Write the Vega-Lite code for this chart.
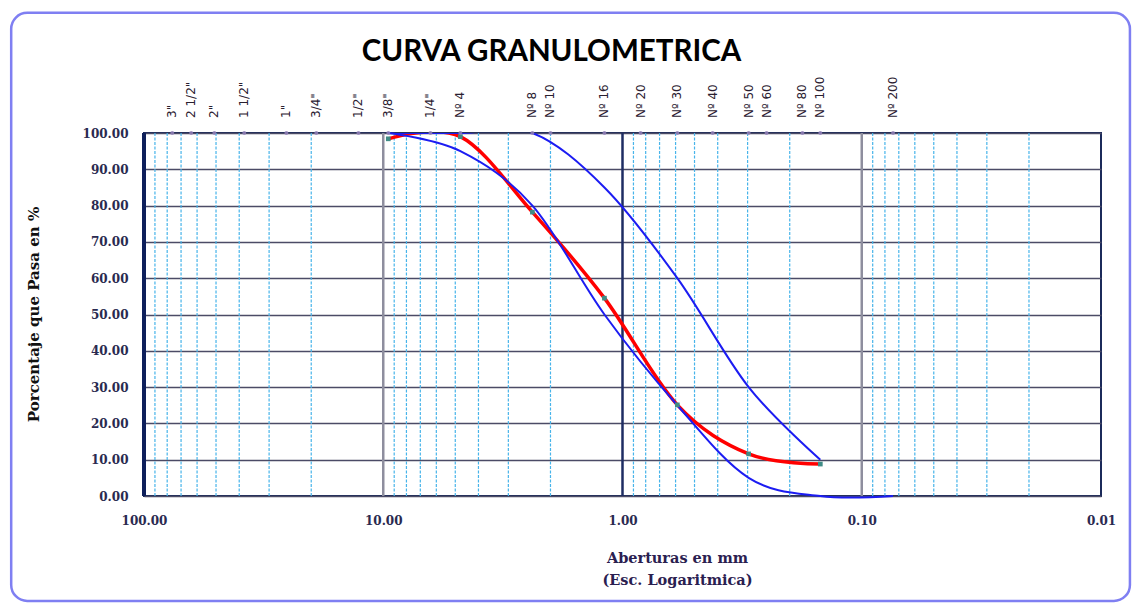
{
  "$schema": "https://vega.github.io/schema/vega-lite/v6.json",
  "autosize": {"type": "none"},
  "padding": {"left": 144, "top": 133, "right": 39, "bottom": 108},
  "width": 957,
  "height": 363,
  "background": "white",
  "title": {
    "text": "CURVA GRANULOMETRICA",
    "font": "Lato",
    "fontSize": 29.5,
    "fontWeight": "bold",
    "color": "#000000",
    "anchor": "middle",
    "dx": -71,
    "offset": -56
  },
  "datasets": {
    "minor": [
      {"size": 90}, {"size": 80}, {"size": 70}, {"size": 60}, {"size": 50}, {"size": 40}, {"size": 30}, {"size": 20},
      {"size": 9}, {"size": 8}, {"size": 7}, {"size": 6}, {"size": 5}, {"size": 4}, {"size": 3}, {"size": 2},
      {"size": 0.9}, {"size": 0.8}, {"size": 0.7}, {"size": 0.6}, {"size": 0.5}, {"size": 0.4}, {"size": 0.3}, {"size": 0.2},
      {"size": 0.09}, {"size": 0.08}, {"size": 0.07}, {"size": 0.06}, {"size": 0.05}, {"size": 0.04}, {"size": 0.03}, {"size": 0.02}
    ],
    "decades": [{"size": 10}, {"size": 1}, {"size": 0.1}],
    "sieves": [
      {"name": "3\"", "size": 76.2},
      {"name": "2 1/2\"", "size": 63.5},
      {"name": "2\"", "size": 50.8},
      {"name": "1 1/2\"", "size": 38.1},
      {"name": "1\"", "size": 25.4},
      {"name": "3/4\"", "size": 19.05},
      {"name": "1/2\"", "size": 12.7},
      {"name": "3/8\"", "size": 9.525},
      {"name": "1/4\"", "size": 6.35},
      {"name": "Nº 4", "size": 4.76},
      {"name": "Nº 8", "size": 2.38},
      {"name": "Nº 10", "size": 2.0},
      {"name": "Nº 16", "size": 1.19},
      {"name": "Nº 20", "size": 0.84},
      {"name": "Nº 30", "size": 0.59},
      {"name": "Nº 40", "size": 0.42},
      {"name": "Nº 50", "size": 0.297},
      {"name": "Nº 60", "size": 0.25},
      {"name": "Nº 80", "size": 0.177},
      {"name": "Nº 100", "size": 0.149},
      {"name": "Nº 200", "size": 0.074}
    ],
    "curves": [
      {"serie": "Muestra", "size": 9.525, "pct": 98.4},
      {"serie": "Muestra", "size": 4.76, "pct": 99.0},
      {"serie": "Muestra", "size": 2.38, "pct": 78.2},
      {"serie": "Muestra", "size": 1.19, "pct": 54.5},
      {"serie": "Muestra", "size": 0.59, "pct": 25.1},
      {"serie": "Muestra", "size": 0.297, "pct": 11.6},
      {"serie": "Muestra", "size": 0.149, "pct": 8.8},
      {"serie": "Límite superior", "size": 9.525, "pct": 100},
      {"serie": "Límite superior", "size": 4.76, "pct": 100},
      {"serie": "Límite superior", "size": 2.38, "pct": 100},
      {"serie": "Límite superior", "size": 1.19, "pct": 85},
      {"serie": "Límite superior", "size": 0.59, "pct": 60},
      {"serie": "Límite superior", "size": 0.297, "pct": 30},
      {"serie": "Límite superior", "size": 0.149, "pct": 10},
      {"serie": "Límite inferior", "size": 9.525, "pct": 100},
      {"serie": "Límite inferior", "size": 4.76, "pct": 95},
      {"serie": "Límite inferior", "size": 2.38, "pct": 80},
      {"serie": "Límite inferior", "size": 1.19, "pct": 50},
      {"serie": "Límite inferior", "size": 0.59, "pct": 25},
      {"serie": "Límite inferior", "size": 0.297, "pct": 5},
      {"serie": "Límite inferior", "size": 0.149, "pct": 0},
      {"serie": "Límite inferior", "size": 0.074, "pct": 0}
    ]
  },
  "layer": [
    {
      "data": {"values": [{}]},
      "mark": {"type": "rect", "filled": false, "stroke": "#7f7ff2", "strokeWidth": 2.5, "cornerRadius": 16, "clip": false},
      "encoding": {
        "x": {"datum": 359, "type": "quantitative", "scale": {"type": "log", "domain": [0.01, 100], "reverse": true, "nice": false}},
        "x2": {"datum": 0.00757},
        "y": {"datum": 133.1, "type": "quantitative", "scale": {"domain": [0, 100], "nice": false}},
        "y2": {"datum": -28.9}
      }
    },
    {
      "data": {"name": "minor"},
      "mark": {"type": "rule", "color": "#47b4ea", "strokeWidth": 1.2, "strokeDash": [3, 1.5]},
      "encoding": {
        "x": {"field": "size", "type": "quantitative"}
      }
    },
    {
      "data": {"name": "decades"},
      "mark": {"type": "rule", "strokeWidth": 2.5},
      "encoding": {
        "x": {"field": "size", "type": "quantitative"},
        "color": {"condition": {"test": "datum.size === 1", "value": "#1e2d63"}, "value": "#8e8e9e"}
      }
    },
    {
      "data": {"values": [{}]},
      "mark": {"type": "rule", "color": "#0e1f5b", "strokeWidth": 4},
      "encoding": {
        "x": {"datum": 100, "type": "quantitative"}
      }
    },
    {
      "data": {"name": "curves"},
      "transform": [{"filter": "datum.serie === 'Muestra'"}],
      "mark": {"type": "line", "color": "#ff0000", "strokeWidth": 3.5, "interpolate": "cardinal", "clip": true},
      "encoding": {
        "x": {
          "field": "size", "type": "quantitative",
          "axis": {
            "orient": "bottom",
            "values": [100, 10, 1, 0.1, 0.01],
            "format": ".2f",
            "title": ["Aberturas en mm", "(Esc. Logaritmica)"]
          }
        },
        "y": {
          "field": "pct", "type": "quantitative",
          "axis": {
            "values": [0, 10, 20, 30, 40, 50, 60, 70, 80, 90, 100],
            "tickCount": 11,
            "format": ".2f",
            "title": "Porcentaje que Pasa en %"
          }
        }
      }
    },
    {
      "data": {"name": "curves"},
      "transform": [{"filter": "datum.serie === 'Límite superior'"}],
      "mark": {"type": "line", "color": "#1c1cf2", "strokeWidth": 2, "interpolate": "cardinal", "clip": true},
      "encoding": {
        "x": {"field": "size", "type": "quantitative"},
        "y": {"field": "pct", "type": "quantitative"}
      }
    },
    {
      "data": {"name": "curves"},
      "transform": [{"filter": "datum.serie === 'Límite inferior'"}],
      "mark": {"type": "line", "color": "#1c1cf2", "strokeWidth": 2, "interpolate": "cardinal", "clip": false},
      "encoding": {
        "x": {"field": "size", "type": "quantitative"},
        "y": {"field": "pct", "type": "quantitative"}
      }
    },
    {
      "data": {"name": "curves"},
      "transform": [{"filter": "datum.serie === 'Muestra'"}],
      "mark": {"type": "point", "shape": "square", "filled": true, "color": "#3f8c86", "size": 22, "opacity": 1},
      "encoding": {
        "x": {"field": "size", "type": "quantitative"},
        "y": {"field": "pct", "type": "quantitative"}
      }
    },
    {
      "data": {"name": "sieves"},
      "mark": {"type": "point", "shape": "circle", "filled": true, "color": "#9381b8", "size": 16, "opacity": 0.85},
      "encoding": {
        "x": {"field": "size", "type": "quantitative"},
        "y": {"datum": 100, "type": "quantitative"}
      }
    },
    {
      "data": {"name": "sieves"},
      "mark": {"type": "text", "angle": 270, "align": "left", "baseline": "middle", "dx": 15, "font": "DejaVu Sans", "fontSize": 12, "color": "#2a2030", "clip": false},
      "encoding": {
        "x": {"field": "size", "type": "quantitative"},
        "y": {"datum": 100, "type": "quantitative"},
        "text": {"field": "name"}
      }
    }
  ],
  "config": {
    "view": {"stroke": "#1b2a5a", "strokeWidth": 2},
    "axisX": {
      "grid": false, "ticks": false, "domain": false,
      "labelFont": "DejaVu Serif", "labelFontSize": 12, "labelFontWeight": "bold", "labelColor": "#2a2a50",
      "labelPadding": 19, "labelFlush": false, "labelOverlap": false,
      "titleFont": "DejaVu Serif", "titleFontSize": 14.5, "titleFontWeight": "bold", "titleColor": "#2a2050",
      "titleX": 533, "titleY": 55, "titleAlign": "center", "titleLineHeight": 22
    },
    "axisY": {
      "tickCount": 11,
      "grid": true, "gridColor": "#4b4b66", "gridWidth": 1.6,
      "ticks": false, "domain": false,
      "labelFont": "DejaVu Serif", "labelFontSize": 12, "labelFontWeight": "bold", "labelColor": "#2a2a50",
      "labelPadding": 16, "labelFlush": false, "labelOverlap": false,
      "titleFont": "DejaVu Serif", "titleFontSize": 15, "titleFontWeight": "bold", "titleColor": "#111111",
      "titleX": -111, "titleY": 181, "titleBaseline": "middle", "titleAlign": "center", "titleAngle": 270
    }
  }
}
